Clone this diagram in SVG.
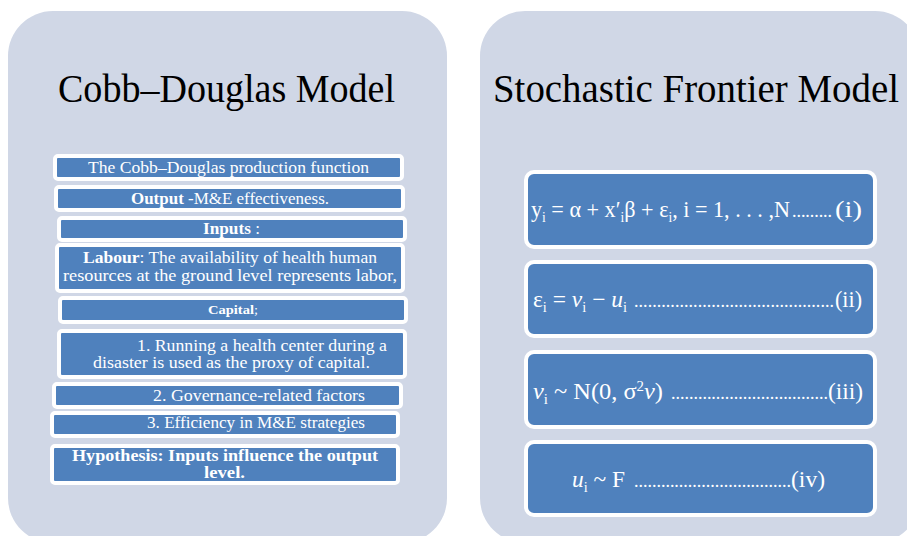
<svg xmlns="http://www.w3.org/2000/svg" width="907" height="536" viewBox="0 0 907 536">
  <style>
    .panel { fill: #D0D7E6; }
    .box { fill: #4F81BD; stroke: #FFFFFF; stroke-width: 4; }
    .title { font-family: "Liberation Serif", "DejaVu Serif", serif; font-size: 40px; fill: #000000; }
    .t { font-family: "Liberation Serif", "DejaVu Serif", serif; font-size: 17px; fill: #FFFFFF; }
    .small { font-size: 13px; }
    .hyp { font-size: 16px; }
    .b { font-weight: bold; }
    .eq { font-family: "Liberation Serif", "DejaVu Serif", serif; font-size: 23px; fill: #FFFFFF; }
    .dots { font-family: "Liberation Serif", "DejaVu Serif", serif; font-size: 18px; fill: #FFFFFF; }
    .sub { font-size: 14px; }
    .it { font-style: italic; }
  </style>
  <rect width="907" height="536" fill="#FFFFFF"/>

  <!-- Left panel: Cobb–Douglas -->
  <g id="panel-cobb-douglas">
    <rect class="panel" x="8" y="11" width="439" height="532" rx="45" ry="45"/>
    <text class="title" x="58" y="102" textLength="337" lengthAdjust="spacingAndGlyphs">Cobb–Douglas Model</text>
  </g>

  <!-- Right panel: Stochastic Frontier -->
  <g id="panel-stochastic-frontier">
    <rect class="panel" x="480" y="11" width="440" height="532" rx="45" ry="45"/>
    <text class="title" x="493" y="102" textLength="406" lengthAdjust="spacingAndGlyphs">Stochastic Frontier Model</text>
  </g>

  <!-- Cobb–Douglas items -->
  <g id="cd-function">
    <rect class="box" x="55" y="156" width="347" height="23" rx="3"/>
    <text class="t" x="88" y="173" textLength="281" lengthAdjust="spacingAndGlyphs">The Cobb–Douglas production function</text>
  </g>
  <g id="cd-output">
    <rect class="box" x="56" y="187" width="347" height="23" rx="3"/>
    <text class="t" x="131" y="204" textLength="198" lengthAdjust="spacingAndGlyphs"><tspan class="b">Output</tspan> -M&amp;E effectiveness.</text>
  </g>
  <g id="cd-inputs">
    <rect class="box" x="59" y="218" width="346" height="22" rx="3"/>
    <text class="t" x="203" y="234" textLength="57" lengthAdjust="spacingAndGlyphs"><tspan class="b">Inputs</tspan> :</text>
  </g>
  <g id="cd-labour">
    <rect class="box" x="57" y="245" width="346" height="46" rx="3"/>
    <text class="t" x="83" y="263" textLength="294" lengthAdjust="spacingAndGlyphs"><tspan class="b">Labour</tspan>: The availability of health human</text>
    <text class="t" x="63" y="281" textLength="334" lengthAdjust="spacingAndGlyphs">resources at the ground level represents labor,</text>
  </g>
  <g id="cd-capital">
    <rect class="box" x="60" y="298" width="346" height="24" rx="3"/>
    <text class="t small" x="208" y="314" textLength="50" lengthAdjust="spacingAndGlyphs"><tspan class="b">Capital</tspan>;</text>
  </g>
  <g id="cd-capital-1">
    <rect class="box" x="59" y="331" width="346" height="46" rx="3"/>
    <text class="t" x="137" y="351" textLength="250" lengthAdjust="spacingAndGlyphs">1. Running a health center during a</text>
    <text class="t" x="93" y="368" textLength="277" lengthAdjust="spacingAndGlyphs">disaster is used as the proxy of capital.</text>
  </g>
  <g id="cd-capital-2">
    <rect class="box" x="54" y="384" width="347" height="23" rx="3"/>
    <text class="t" x="153" y="401" textLength="212" lengthAdjust="spacingAndGlyphs">2. Governance-related factors</text>
  </g>
  <g id="cd-capital-3">
    <rect class="box" x="52" y="413" width="346" height="23" rx="3"/>
    <text class="t" x="147" y="428" textLength="218" lengthAdjust="spacingAndGlyphs">3. Efficiency in M&amp;E strategies</text>
  </g>
  <g id="cd-hypothesis">
    <rect class="box" x="52" y="446" width="346" height="37" rx="3"/>
    <text class="t b hyp" x="72" y="461" textLength="306" lengthAdjust="spacingAndGlyphs">Hypothesis: Inputs influence the output</text>
    <text class="t b hyp" x="204" y="478" textLength="41" lengthAdjust="spacingAndGlyphs">level.</text>
  </g>

  <!-- Stochastic frontier equations -->
  <g id="sf-eq1">
    <rect class="box" x="526" y="172" width="349" height="75" rx="8"/>
    <text class="eq" x="531" y="217" textLength="259" lengthAdjust="spacingAndGlyphs">y<tspan class="sub" dy="5">i</tspan><tspan dy="-5"> = α + x′</tspan><tspan class="sub" dy="5">i</tspan><tspan dy="-5">β + ε</tspan><tspan class="sub" dy="5">i</tspan><tspan dy="-5">, i = 1, . . . ,N</tspan></text>
    <text class="dots" x="792" y="217" textLength="40" lengthAdjust="spacing">.........</text>
    <text class="eq" x="835" y="217" textLength="27" lengthAdjust="spacingAndGlyphs">(i)</text>
  </g>
  <g id="sf-eq2">
    <rect class="box" x="526" y="262" width="349" height="74" rx="8"/>
    <text class="eq" x="533" y="307" textLength="94" lengthAdjust="spacingAndGlyphs">ε<tspan class="sub" dy="5">i</tspan><tspan dy="-5"> = </tspan><tspan class="it">v</tspan><tspan class="sub" dy="5">i</tspan><tspan dy="-5"> − </tspan><tspan class="it">u</tspan><tspan class="sub" dy="5">i</tspan></text>
    <text class="dots" x="634" y="307" textLength="200" lengthAdjust="spacing">............................................</text>
    <text class="eq" x="835" y="307" textLength="27" lengthAdjust="spacingAndGlyphs">(ii)</text>
  </g>
  <g id="sf-eq3">
    <rect class="box" x="526" y="352" width="349" height="75" rx="8"/>
    <text class="eq" x="533" y="399" textLength="130" lengthAdjust="spacingAndGlyphs"><tspan class="it">v</tspan><tspan class="sub" dy="5">i</tspan><tspan dy="-5"> ~ N(0, σ</tspan><tspan class="sub" dy="-8">2</tspan><tspan class="it" dy="8">v</tspan>)</text>
    <text class="dots" x="671" y="399" textLength="157" lengthAdjust="spacing">...................................</text>
    <text class="eq" x="828" y="399" textLength="35" lengthAdjust="spacingAndGlyphs">(iii)</text>
  </g>
  <g id="sf-eq4">
    <rect class="box" x="526" y="442" width="349" height="73" rx="8"/>
    <text class="eq" x="572" y="487" textLength="53" lengthAdjust="spacingAndGlyphs"><tspan class="it">u</tspan><tspan class="sub" dy="5">i</tspan><tspan dy="-5"> ~ F</tspan></text>
    <text class="dots" x="634" y="487" textLength="157" lengthAdjust="spacing">...................................</text>
    <text class="eq" x="791" y="487" textLength="34" lengthAdjust="spacingAndGlyphs">(iv)</text>
  </g>

  <!-- no connectors between the items -->
  <g id="connectors"/>
</svg>
